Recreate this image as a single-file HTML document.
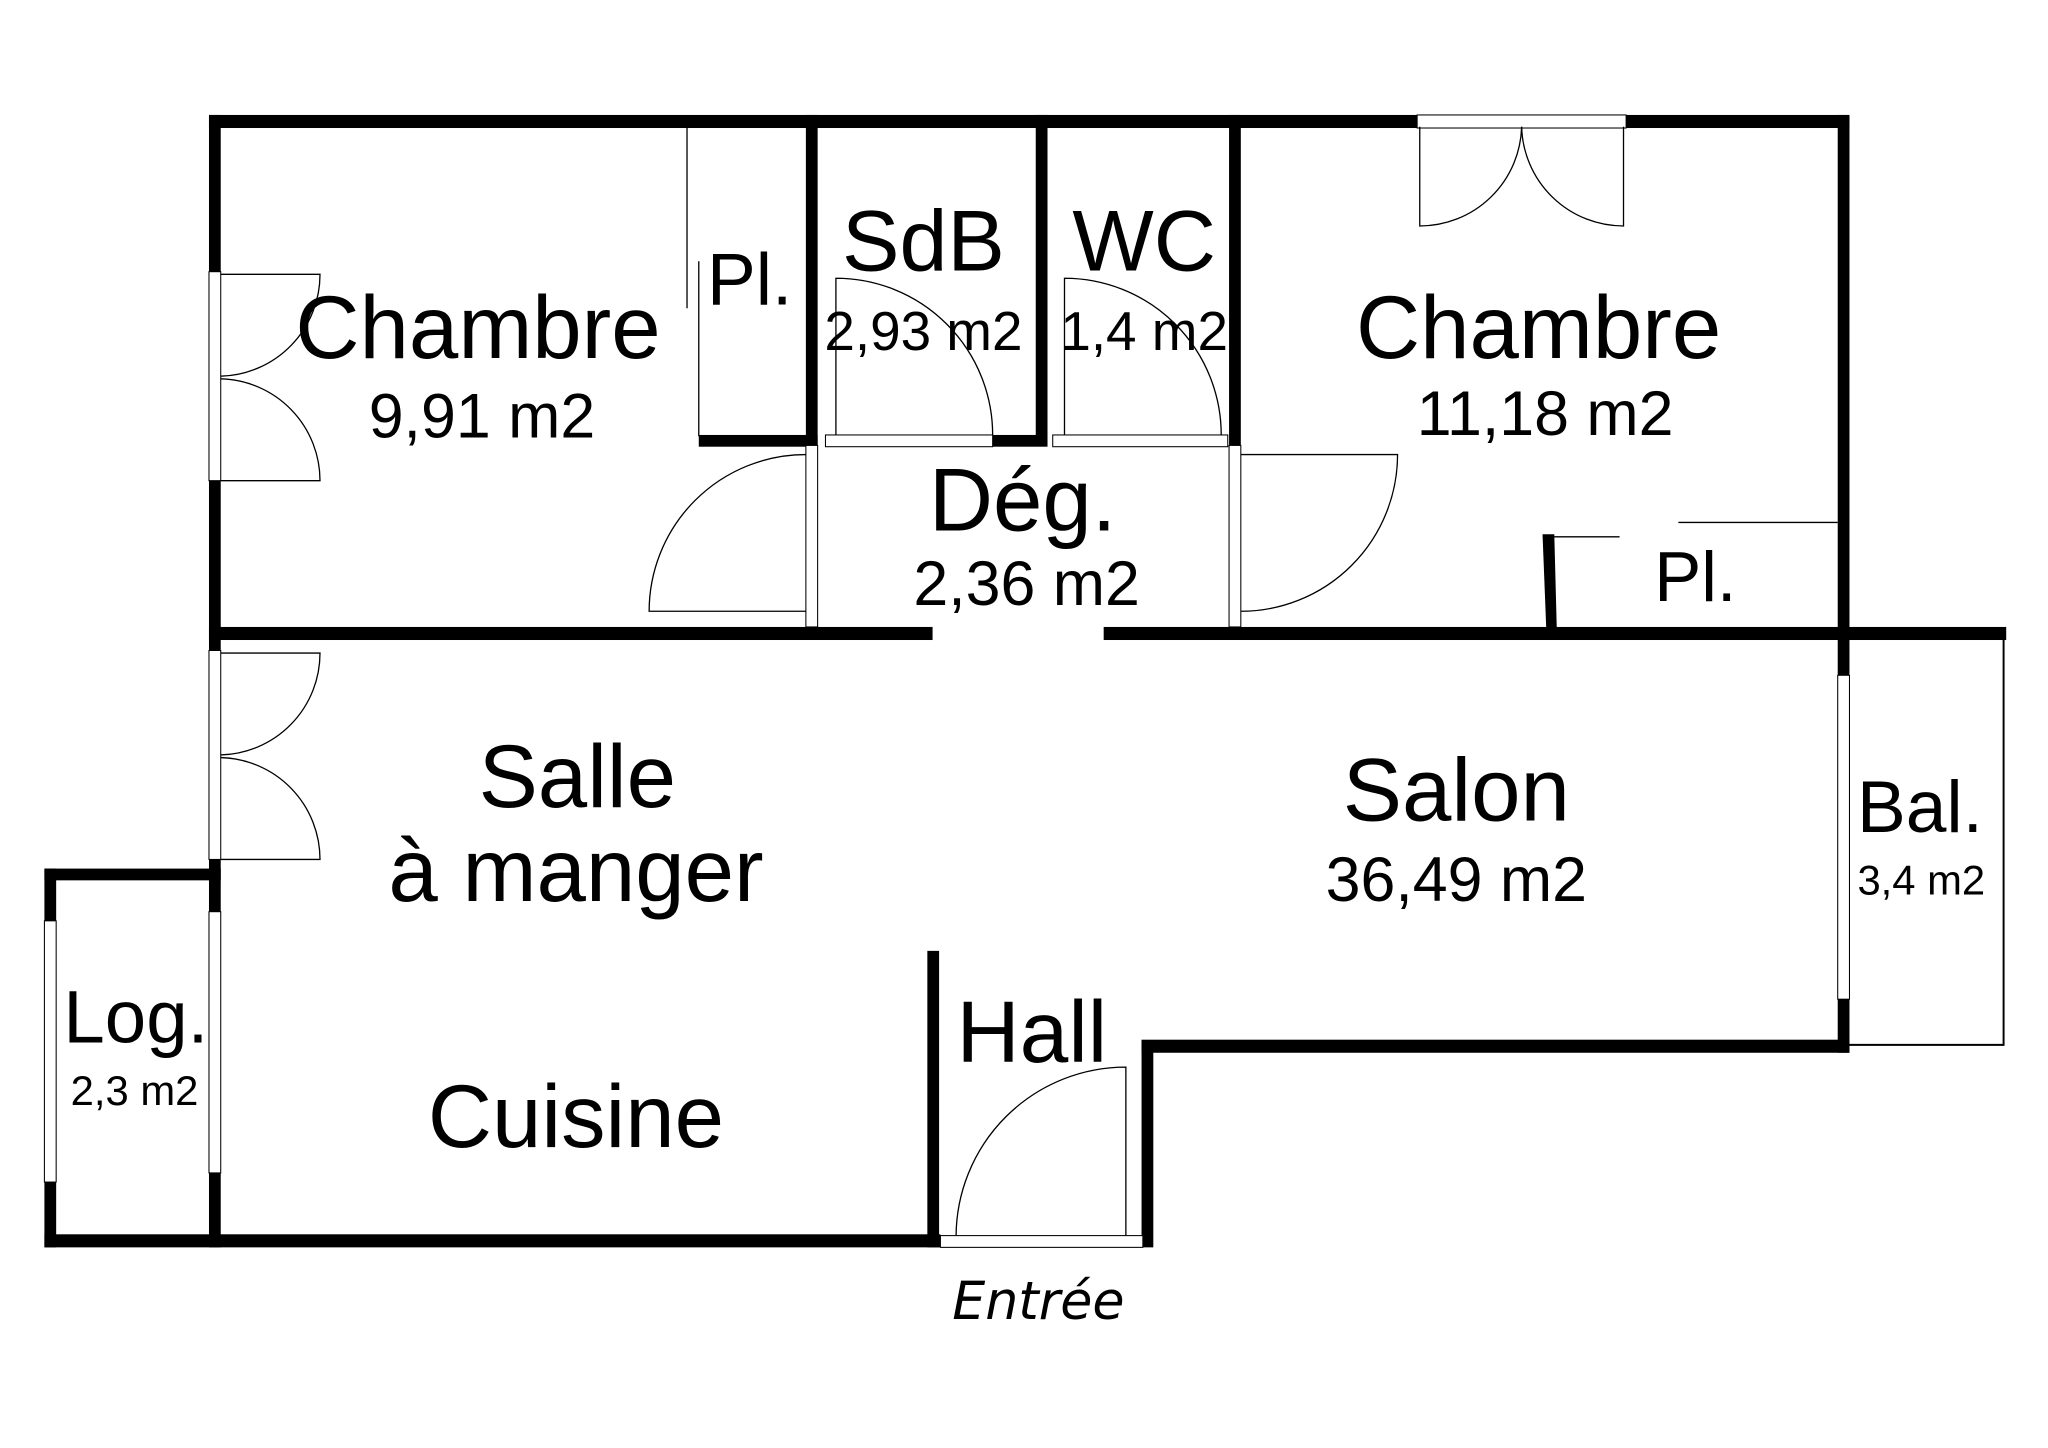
<!DOCTYPE html>
<html><head><meta charset="utf-8"><style>
html,body{margin:0;padding:0;background:#fff;}
svg{display:block;}
text{font-family:"Liberation Sans",Arial,sans-serif;fill:#000;text-anchor:middle;}
</style></head><body>
<svg width="2048" height="1448" viewBox="0 0 1568 1108.6" xmlns="http://www.w3.org/2000/svg">
<rect width="1568" height="1109" fill="#fff"/>
<g fill="#000">
<rect x="160" y="88" width="1256" height="10"/>
<rect x="160" y="88" width="9" height="867"/>
<rect x="34" y="665" width="135" height="9"/>
<rect x="34" y="665" width="9" height="290"/>
<rect x="34" y="945" width="686" height="10"/>
<rect x="874" y="797" width="9" height="158"/>
<rect x="710" y="728" width="9" height="227"/>
<rect x="874" y="796" width="542" height="10"/>
<rect x="1407" y="88" width="9" height="718"/>
<rect x="160" y="480" width="554" height="10"/>
<rect x="845" y="480" width="691" height="10"/>
<rect x="617" y="88" width="9" height="253"/>
<rect x="793" y="88" width="9" height="253"/>
<rect x="941" y="88" width="9" height="253"/>
<rect x="535" y="333" width="91" height="9"/>
<rect x="760" y="333" width="42" height="9"/>
<polygon points="1181,409 1190,409 1192,485 1184,485"/>
</g>
<g fill="#fff" stroke="#000" stroke-width="0.8">
<rect x="160" y="208" width="9" height="160"/>
<rect x="160" y="498" width="9" height="160"/>
<rect x="160" y="698" width="9" height="200"/>
<rect x="34" y="705" width="9" height="200"/>
<rect x="1407" y="517" width="9" height="248"/>
<rect x="1085" y="88" width="160" height="10"/>
<rect x="632" y="333" width="128" height="9"/>
<rect x="806" y="333" width="134" height="9"/>
<rect x="617" y="341" width="9" height="139"/>
<rect x="941" y="341" width="9" height="139"/>
<rect x="720" y="946" width="155" height="9"/>
</g>
<g fill="none" stroke="#000" stroke-width="1">
<polyline points="1416,800 1534,800 1534,489" stroke-width="1.5"/>
<line x1="526" y1="97" x2="526" y2="236"/>
<line x1="535" y1="200" x2="535" y2="334"/>
<line x1="1187" y1="411" x2="1240" y2="411"/>
<line x1="1285" y1="400" x2="1407" y2="400"/>
<path d="M169,210 H245 A78,78 0 0 1 169,288"/>
<path d="M169,368 H245 A78,78 0 0 0 169,290"/>
<path d="M169,500 H245 A78,78 0 0 1 169,578"/>
<path d="M169,658 H245 A78,78 0 0 0 169,580"/>
<path d="M617,468 H497 A120,120 0 0 1 617,348"/>
<path d="M950,348 H1070 A120,120 0 0 1 950,468"/>
<path d="M640,333 V213 A120,120 0 0 1 760,333"/>
<path d="M815,333 V213 A120,120 0 0 1 935,333"/>
<path d="M1087,97 V173 A78,78 0 0 0 1165,97"/>
<path d="M1243,97 V173 A78,78 0 0 1 1165,97"/>
<path d="M862,946 V817 A130,130 0 0 0 732,946"/>
</g>
<text x="366" y="274" font-size="68">Chambre</text>
<text x="369" y="335" font-size="48">9,91 m2</text>
<text x="574" y="233" font-size="56">Pl.</text>
<text x="707" y="207" font-size="66">SdB</text>
<text x="707" y="268" font-size="42">2,93 m2</text>
<text x="876" y="207" font-size="66">WC</text>
<text x="876" y="268" font-size="42">1,4 m2</text>
<text x="1178" y="274" font-size="68">Chambre</text>
<text x="1183" y="333" font-size="48">11,18 m2</text>
<text x="783" y="406" font-size="68">Dég.</text>
<text x="786" y="463" font-size="48">2,36 m2</text>
<text x="1298" y="460" font-size="54">Pl.</text>
<text x="442" y="618" font-size="68">Salle</text>
<text x="441" y="690" font-size="68">à manger</text>
<text x="1115" y="628" font-size="68">Salon</text>
<text x="1115" y="690" font-size="48">36,49 m2</text>
<text x="1470" y="637" font-size="56">Bal.</text>
<text x="1471" y="685" font-size="32">3,4 m2</text>
<text x="104" y="798" font-size="57">Log.</text>
<text x="103" y="846" font-size="32">2,3 m2</text>
<text x="790" y="813" font-size="67">Hall</text>
<text x="441" y="878" font-size="68">Cuisine</text>
<text x="795" y="1010" font-size="40" font-style="italic" style="font-family:'DejaVu Sans',sans-serif">Entrée</text>
</svg>
</body></html>
